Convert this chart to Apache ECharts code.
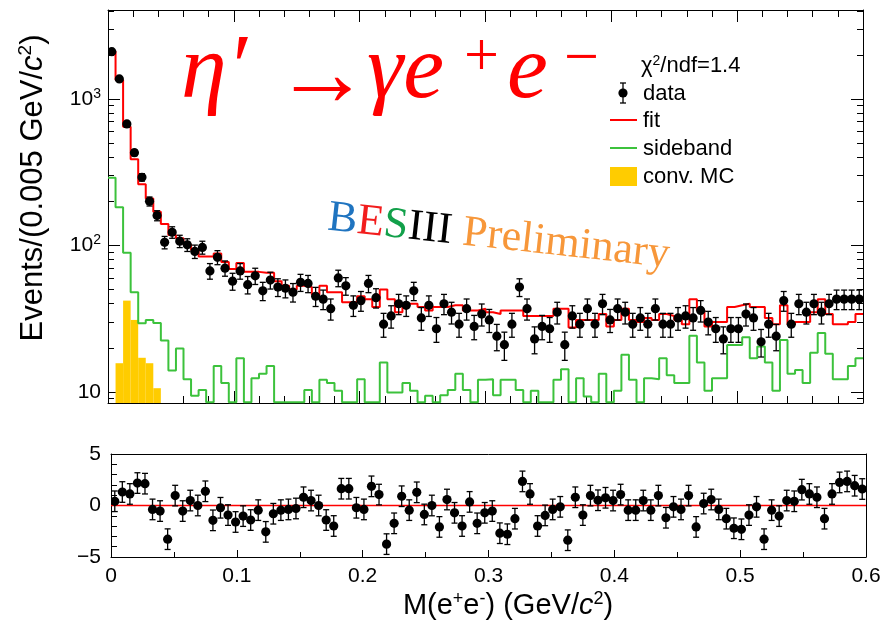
<!DOCTYPE html>
<html><head><meta charset="utf-8">
<script src="https://cdn.jsdelivr.net/npm/echarts@6/dist/echarts.min.js"></script>
<style>html,body{margin:0;padding:0;background:#fff}#c{width:885px;height:630px}</style>
</head><body><div id="c"></div>
<script>
// ---------------- data ----------------
const binWidth = 0.006;          // GeV per bin as drawn (100 bins over 0-0.6)
const xMin = 0, xMax = 0.6;
const yMinMain = 8.4, yMaxMain = 4050;

const dataCounts = [2104,1370,675,430,292,200,160,105,123,107,
  101,91,97,67,83,70,57,67,54,62,
  49,58,52,51,48,56,55,45,43,37,
  60,53,39,42,55,44,29,33,40,39,
  49,32,39,27,40,35,29,37,28,34,
  31,24,21,29,52,37,23,28,27,35,
  21,33,29,37,29,40,31,37,35,29,
  32,29,37,29,29,32,33,32,36,30,
  27,23,27,27,34,32,22,29,24,42,
  29,40,35,40,35,40,43,43,43,43];

const fitValues = [2110,1349,647,387,262,209,170,140,118,112,
  101,93,84,84,88,77,69,76,66,66,
  65,65,57,53,50,53,52,46,53,48,
  48,41,41,45,43,38,50,43,35,40,
  40,38,36,38,38,39,39,36,36,37,
  35,34,36,36,36,33,33,33,33,37,
  37,27.5,31,31,31,34,28,31,37,31,
  30,32,31,34,33,31,29,43,36,28,
  30,30,38,39,40,38,38,32,29,39,
  29,30,30,35,43,34,29,29,30,34];

const sidebandValues = [290,182,89,48,29.4,31,29.5,22.4,14,19.8,
  12.2,9.4,10.3,8.5,15,11.5,8.5,17,8.5,12.4,
  13.3,15,8.5,8.5,8.5,8.5,10.3,8.5,12.1,11.5,
  10.2,8.5,8.5,12.2,8.5,8.5,15.9,9.9,9.9,11.5,
  10.2,8.5,9.4,8.5,9.5,10.3,13.3,10.3,8.5,12.1,
  12.2,9.5,12.1,12.1,10.3,8.5,10.2,8.5,8.5,12.1,
  14.3,8.5,12.4,9.3,8.5,13.3,8.5,10.2,17.9,12.1,
  8.5,12.4,12.2,17,13,11.5,11.5,24.2,15.9,10.2,
  12.4,12.4,20.9,20.9,23.6,17,20.4,15.9,10.2,22.6,
  13.3,14.1,11.5,18.5,25.2,18.2,12.2,12.2,15,17];

const convMC = [0,15.7,42,31,17.1,15.7,10.6];

const residuals = [0.41,1.31,1.12,2.18,2.12,-0.38,-0.54,-3.27,0.96,-0.54,
  0.48,0,1.38,-1.44,-0.22,-0.93,-1.6,-1.03,-1.41,-0.45,
  -2.56,-0.8,-0.45,-0.38,-0.29,0.8,0.48,0,-1.41,-1.99,
  1.63,1.63,-0.22,-0.38,1.86,1.06,-3.75,-1.73,0.9,-0.45,
  1.28,-0.87,0,-2.08,0.58,-0.71,-1.99,0.35,-1.73,-0.71,
  -0.54,-2.69,-2.79,-1.28,2.34,1.12,-1.99,-0.96,-0.38,-0.13,
  -3.37,0.8,-0.93,0.96,0.51,0.75,0.48,1.06,-0.45,-0.45,
  0.48,-0.45,0.96,-1.19,-0.13,-0.38,0.96,-2.08,0.19,0.58,
  -0.38,-1.28,-2.21,-2.31,-0.93,-0.13,-3.27,-0.45,-1.03,0.48,
  0.41,1.54,1.12,0.8,-1.28,1.12,2.24,2.34,1.92,1.6];
const residualErr = 1;

const xTickLabels = ['0','0.1','0.2','0.3','0.4','0.5','0.6'];
const yMajorTicks = [10,100,1000];
const yMinorTicks = [9,20,30,40,50,60,70,80,90,200,300,400,500,600,700,800,900,2000,3000,4000];
const legendItems = ['data','fit','sideband','conv. MC'];

// ---------------- helpers ----------------
const SANS = '"Liberation Sans", Arial, Helvetica, sans-serif';
const SERIF = '"Liberation Serif", "Times New Roman", serif';
const RED = '#ff0000', GREEN = '#3cc23c', YELLOW = '#ffcc00';

function stepData(vals) {
  const d = vals.map((v, i) => [i * binWidth, v]);
  d.push([vals.length * binWidth, vals[vals.length - 1]]);
  return d;
}
const dataPoints = dataCounts.map((v, i) => [(i + 0.5) * binWidth, v, Math.sqrt(v)]);
const residPoints = residuals.map((v, i) => [(i + 0.5) * binWidth, v, residualErr]);
const mcBars = convMC.map((v, i) => [i * binWidth, (i + 1) * binWidth, v]).filter(d => d[2] > 0);

function errRender(lw, r, cap, isLog) {
  return function (params, api) {
    const x = api.value(0), y = api.value(1), e = api.value(2);
    const c = api.coord([x, y]);
    const lo = api.coord([x, isLog ? Math.max(y - e, 1e-6) : y - e]);
    const hi = api.coord([x, y + e]);
    const st = { stroke: '#000', lineWidth: lw };
    return { type: 'group', children: [
      { type: 'line', shape: { x1: c[0], y1: lo[1], x2: c[0], y2: hi[1] }, style: st },
      { type: 'line', shape: { x1: c[0] - cap, y1: lo[1], x2: c[0] + cap, y2: lo[1] }, style: st },
      { type: 'line', shape: { x1: c[0] - cap, y1: hi[1], x2: c[0] + cap, y2: hi[1] }, style: st },
      { type: 'circle', shape: { cx: c[0], cy: c[1], r: r }, style: { fill: '#000' } }
    ]};
  };
}

const lineSt = { color: '#000', width: 1 };
function xAx(grid, pos, opts) {
  return Object.assign({
    gridIndex: grid, type: 'value', min: xMin, max: xMax, interval: 0.1, position: pos,
    axisLine: { show: true, onZero: false, lineStyle: lineSt },
    axisTick: { show: true, inside: true, length: 12, lineStyle: lineSt },
    minorTick: { show: true, splitNumber: 5, length: 7, lineStyle: lineSt },
    axisLabel: { show: false }, splitLine: { show: false }, minorSplitLine: { show: false }
  }, opts || {});
}
function yLog(pos, ticks, len, withLine, withLabel) {
  return {
    gridIndex: 0, type: 'log', logBase: 10, min: yMinMain, max: yMaxMain, position: pos,
    axisLine: { show: withLine, onZero: false, lineStyle: lineSt },
    axisTick: { show: true, inside: true, length: len, customValues: ticks, lineStyle: lineSt },
    minorTick: { show: false }, splitLine: { show: false },
    axisLabel: withLabel ? {
      show: true, customValues: ticks, margin: 7, color: '#000', fontFamily: SANS, fontSize: 21,
      formatter: v => { const p = Math.round(Math.log10(v)); return p === 1 ? '10' : '10{s|' + p + '}'; },
      rich: { s: { fontSize: 14, fontFamily: SANS, color: '#000', verticalAlign: 'top', padding: [0, 0, 10, 0] } }
    } : { show: false }
  };
}

const chart = echarts.init(document.getElementById('c'), null, { renderer: 'canvas', width: 885, height: 630 });
const option = {
  animation: false,
  backgroundColor: '#fff',
  grid: [
    { left: 108, top: 10, width: 755, height: 393, containLabel: false, outerBoundsMode: 'none' },
    { left: 111, top: 454, width: 755, height: 103, containLabel: false, outerBoundsMode: 'none' }
  ],
  xAxis: [
    xAx(0, 'bottom'),
    xAx(0, 'top'),
    xAx(1, 'bottom', {
      axisTick: { show: true, inside: true, length: 7, lineStyle: lineSt },
      minorTick: { show: true, splitNumber: 2, length: 5, lineStyle: lineSt },
      axisLabel: { show: true, margin: 9, color: '#000', fontFamily: SANS, fontSize: 21,
        formatter: v => xTickLabels[Math.round(v * 10)] }
    }),
    xAx(1, 'top', { axisTick: { show: false }, minorTick: { show: false } })
  ],
  yAxis: [
    yLog('left', yMajorTicks, 12, true, true),
    yLog('left', yMinorTicks, 6, false, false),
    yLog('right', yMajorTicks, 12, true, false),
    yLog('right', yMinorTicks, 6, false, false),
    { gridIndex: 1, type: 'value', min: -5, max: 5, interval: 5, position: 'left',
      axisLine: { show: true, onZero: false, lineStyle: lineSt },
      axisTick: { show: true, inside: true, length: 12, lineStyle: lineSt },
      minorTick: { show: true, splitNumber: 5, length: 6, lineStyle: lineSt },
      splitLine: { show: false }, minorSplitLine: { show: false },
      axisLabel: { show: true, margin: 10, color: '#000', fontFamily: SANS, fontSize: 21,
        formatter: v => v < 0 ? '\u2212' + Math.abs(v) : String(v) } },
    { gridIndex: 1, type: 'value', min: -5, max: 5, interval: 5, position: 'right',
      axisLine: { show: true, onZero: false, lineStyle: lineSt },
      axisTick: { show: false }, axisLabel: { show: false }, splitLine: { show: false } }
  ],
  series: [
    { name: 'conv. MC', type: 'custom', xAxisIndex: 0, yAxisIndex: 0, clip: true, z: 1,
      data: mcBars, encode: { x: [0, 1], y: 2 },
      renderItem: (params, api) => {
        const p0 = api.coord([api.value(0), api.value(2)]);
        const p1 = api.coord([api.value(1), yMinMain]);
        return { type: 'rect', shape: { x: p0[0], y: p0[1], width: p1[0] - p0[0], height: p1[1] - p0[1] },
          style: { fill: YELLOW } };
      } },
    { name: 'sideband', type: 'line', step: 'end', xAxisIndex: 0, yAxisIndex: 0, clip: true, z: 2,
      data: stepData(sidebandValues), showSymbol: false, symbol: 'none',
      lineStyle: { color: GREEN, width: 2 } },
    { name: 'fit', type: 'line', step: 'end', xAxisIndex: 0, yAxisIndex: 0, clip: true, z: 3,
      data: stepData(fitValues), showSymbol: false, symbol: 'none',
      lineStyle: { color: RED, width: 2 } },
    { name: 'data', type: 'custom', xAxisIndex: 0, yAxisIndex: 0, clip: true, z: 4,
      data: dataPoints, encode: { x: 0, y: 1 }, renderItem: errRender(1.3, 4.6, 3, true) },
    { name: 'zero', type: 'line', xAxisIndex: 2, yAxisIndex: 4, z: 2,
      data: [[xMin, 0], [xMax, 0]], showSymbol: false, symbol: 'none',
      lineStyle: { color: RED, width: 1.3 } },
    { name: 'resid', type: 'custom', xAxisIndex: 2, yAxisIndex: 4, clip: true, z: 4,
      data: residPoints, encode: { x: 0, y: 1 }, renderItem: errRender(1.3, 4.6, 3, false) }
  ],
  graphic: [
    // axis titles
    { type: 'text', x: 33, y: 188, rotation: Math.PI / 2, silent: true,
      style: { text: 'Events/(0.005 GeV/{i|c}{s|2})', fill: '#000', fontFamily: SANS, fontSize: 31,
        align: 'center', verticalAlign: 'middle',
        rich: { i: { fontStyle: 'italic', fontFamily: SANS, fontSize: 31, fill: '#000' },
                s: { fontSize: 19, fontFamily: SANS, verticalAlign: 'top', padding: [0, 0, 14, 0] } } } },
    { type: 'text', x: 508, y: 606, silent: true,
      style: { text: 'M(e{s|+}e{s|-}) (GeV/{i|c}{s|2})', fill: '#000', fontFamily: SANS, fontSize: 29,
        align: 'center', verticalAlign: 'middle',
        rich: { i: { fontStyle: 'italic', fontFamily: SANS, fontSize: 29 },
                s: { fontSize: 18, fontFamily: SANS, verticalAlign: 'top', padding: [0, 0, 13, 0] } } } },
    // big formula
    { type: 'text', x: 181, y: 73, silent: true,
      style: { text: '\u03b7\u2032', fill: RED, fontFamily: SERIF, fontStyle: 'italic', fontSize: 92, align: 'left', verticalAlign: 'middle' } },
    { type: 'text', x: 274, y: 80, silent: true,
      style: { text: '\u2192', fill: RED, fontFamily: SERIF, fontSize: 96, align: 'left', verticalAlign: 'middle' } },
    { type: 'text', x: 367, y: 73, silent: true,
      style: { text: '\u03b3e', fill: RED, fontFamily: SERIF, fontStyle: 'italic', fontSize: 92, align: 'left', verticalAlign: 'middle' } },
    { type: 'text', x: 464, y: 59, silent: true,
      style: { text: '+', fill: RED, fontFamily: SERIF, fontSize: 62, align: 'left', verticalAlign: 'middle' } },
    { type: 'text', x: 507, y: 73, silent: true,
      style: { text: 'e', fill: RED, fontFamily: SERIF, fontStyle: 'italic', fontSize: 92, align: 'left', verticalAlign: 'middle' } },
    { type: 'text', x: 564, y: 61, silent: true,
      style: { text: '\u2212', fill: RED, fontFamily: SERIF, fontSize: 62, align: 'left', verticalAlign: 'middle' } },
    // BESIII Preliminary
    { type: 'text', x: 328, y: 218, rotation: -0.11, silent: true,
      style: { text: '{b|B}{e|E}{s|S}{k|III} {p|Preliminary}', fontFamily: SERIF, fontSize: 44,
        align: 'left', verticalAlign: 'middle',
        rich: { b: { fill: '#1f74c0', fontFamily: SERIF, fontSize: 44 },
                e: { fill: '#f21d1d', fontFamily: SERIF, fontSize: 44 },
                s: { fill: '#12a04a', fontFamily: SERIF, fontSize: 44 },
                k: { fill: '#000', fontFamily: SERIF, fontSize: 44 },
                p: { fill: '#f7973a', fontFamily: SERIF, fontSize: 44 } } } },
    // legend
    { type: 'text', x: 641, y: 66, silent: true,
      style: { text: '\u03c7{s|2}/ndf=1.4', fill: '#000', fontFamily: SANS, fontSize: 22, align: 'left', verticalAlign: 'middle',
        rich: { s: { fontSize: 14, fontFamily: SANS, verticalAlign: 'top', padding: [0, 0, 9, 0] } } } },
    { type: 'line', shape: { x1: 623, y1: 83, x2: 623, y2: 103 }, style: { stroke: '#000', lineWidth: 1.3 } },
    { type: 'line', shape: { x1: 620, y1: 83, x2: 626, y2: 83 }, style: { stroke: '#000', lineWidth: 1.3 } },
    { type: 'line', shape: { x1: 620, y1: 103, x2: 626, y2: 103 }, style: { stroke: '#000', lineWidth: 1.3 } },
    { type: 'circle', shape: { cx: 623, cy: 93, r: 4.6 }, style: { fill: '#000' } },
    { type: 'text', x: 643, y: 94, silent: true,
      style: { text: legendItems[0], fill: '#000', fontFamily: SANS, fontSize: 22, align: 'left', verticalAlign: 'middle' } },
    { type: 'line', shape: { x1: 610, y1: 120, x2: 637, y2: 120 }, style: { stroke: RED, lineWidth: 2 } },
    { type: 'text', x: 643, y: 121, silent: true,
      style: { text: legendItems[1], fill: '#000', fontFamily: SANS, fontSize: 22, align: 'left', verticalAlign: 'middle' } },
    { type: 'line', shape: { x1: 610, y1: 148, x2: 637, y2: 148 }, style: { stroke: GREEN, lineWidth: 2 } },
    { type: 'text', x: 643, y: 149, silent: true,
      style: { text: legendItems[2], fill: '#000', fontFamily: SANS, fontSize: 22, align: 'left', verticalAlign: 'middle' } },
    { type: 'rect', shape: { x: 610, y: 167, width: 27, height: 19 }, style: { fill: YELLOW } },
    { type: 'text', x: 643, y: 177, silent: true,
      style: { text: legendItems[3], fill: '#000', fontFamily: SANS, fontSize: 22, align: 'left', verticalAlign: 'middle' } }
  ]
};
chart.setOption(option);
</script>
</body></html>
